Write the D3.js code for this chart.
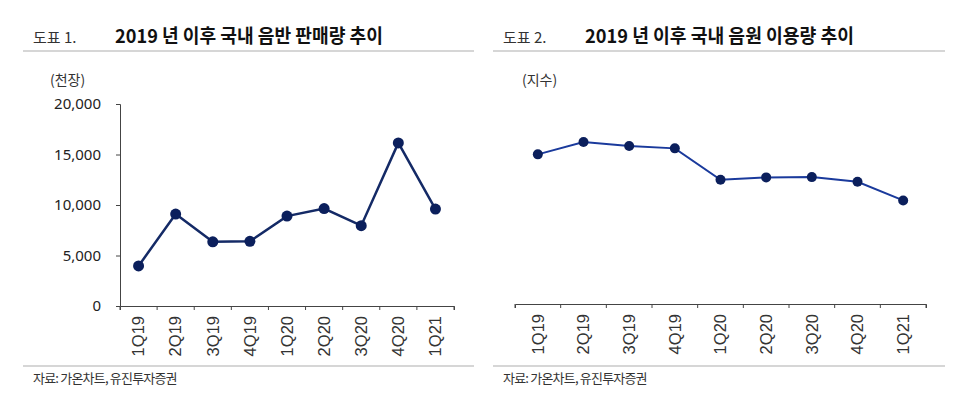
<!DOCTYPE html>
<html>
<head>
<meta charset="utf-8">
<script src="https://cdn.jsdelivr.net/npm/d3@7"></script>
<style>
  body { margin: 0; background: #fff; }
  svg { display: block; font-family: "Noto Sans CJK KR", "Noto Sans", sans-serif; }
</style>
</head>
<body>
<svg id="chart" width="966" height="396"></svg>
<script>
const quarters = ["1Q19", "2Q19", "3Q19", "4Q19", "1Q20", "2Q20", "3Q20", "4Q20", "1Q21"];
// 국내 음반 판매량 (천장)
const albumSales = [3970, 9100, 6350, 6400, 8900, 9650, 7950, 16150, 9600];
// 국내 음원 이용량 (지수, 1Q19 = 100)
const streamIndex = [100, 108.2, 105.6, 104.0, 83.0, 84.6, 84.8, 81.7, 69.2];
const salesTicks = [0, 5000, 10000, 15000, 20000];

const svg = d3.select("#chart");
const navy = "#0b1f5c";

function panel(opts) {
  const g = svg.append("g");
  // header
  g.append("text")
    .attr("x", opts.x0 + 10).attr("y", 43)
    .attr("font-size", 15).attr("fill", "#333")
    .text(opts.label);
  g.append("text")
    .attr("x", opts.titleX).attr("y", 43)
    .attr("font-size", 19).attr("font-weight", "bold").attr("fill", "#111")
    .attr("textLength", opts.titleW).attr("lengthAdjust", "spacingAndGlyphs")
    .text(opts.title);
  g.append("line")
    .attr("x1", opts.x0).attr("x2", opts.x1).attr("y1", 51).attr("y2", 51)
    .attr("stroke", "#c8c8c8").attr("stroke-width", 1.5);
  g.append("line")
    .attr("x1", opts.x0).attr("x2", opts.x1).attr("y1", 366).attr("y2", 366)
    .attr("stroke", "#c8c8c8").attr("stroke-width", 1.5);
  g.append("text")
    .attr("x", opts.x0 + 10).attr("y", 383)
    .attr("font-size", 13).attr("fill", "#333").attr("letter-spacing", -0.8)
    .text("자료: 가온차트, 유진투자증권");
  g.append("text")
    .attr("x", opts.unitX).attr("y", 85)
    .attr("font-size", 14).attr("fill", "#333")
    .text(opts.unit);

  const x = d3.scaleBand().domain(quarters).range([opts.left, opts.right]);
  const y = d3.scaleLinear().domain(opts.domain).range([opts.bottom, opts.top]);

  const xAxis = g.append("g")
    .attr("transform", `translate(0, ${opts.bottom})`)
    .call(d3.axisBottom(x).tickSizeOuter(4).tickSizeInner(4).tickPadding(6));
  xAxis.select(".domain").attr("stroke", "#444");
  xAxis.selectAll(".tick line").attr("stroke", "#444")
    .attr("transform", `translate(${-x.bandwidth() / 2}, 0)`);
  xAxis.selectAll(".tick text")
    .attr("transform", "rotate(-90)")
    .attr("x", -10).attr("y", 0).attr("dy", "0.35em")
    .style("text-anchor", "end")
    .attr("font-size", 16.5).attr("fill", "#333")
    .attr("font-family", "'Liberation Sans', sans-serif");
  // closing tick at the right end
  xAxis.append("line")
    .attr("x1", opts.right).attr("x2", opts.right).attr("y1", 0).attr("y2", 4)
    .attr("stroke", "#444");

  if (opts.showY) {
    const yAxis = g.append("g")
      .attr("transform", `translate(${opts.left}, 0)`)
      .call(d3.axisLeft(y).tickValues(salesTicks).tickSizeOuter(0).tickSize(4).tickPadding(15)
        .tickFormat(d3.format(",")));
    yAxis.select(".domain").attr("stroke", "#444");
    yAxis.selectAll(".tick line").attr("stroke", "#444");
    yAxis.selectAll(".tick text").attr("font-size", 15).attr("fill", "#222")
      .attr("font-family", "'Noto Sans', sans-serif");
  }

  const cx = (d, i) => x(quarters[i]) + x.bandwidth() / 2;
  g.append("path")
    .datum(opts.values)
    .attr("fill", "none")
    .attr("stroke", opts.lineColor)
    .attr("stroke-width", opts.lineWidth)
    .attr("d", d3.line().x(cx).y((d) => y(d)));
  g.selectAll("circle.pt")
    .data(opts.values)
    .join("circle")
    .attr("class", "pt")
    .attr("cx", cx)
    .attr("cy", (d) => y(d))
    .attr("r", opts.r)
    .attr("fill", navy);
}

panel({
  x0: 23, x1: 474, label: "도표 1.", title: "2019 년 이후 국내 음반 판매량 추이",
  titleX: 115, titleW: 268, unit: "(천장)", unitX: 50,
  left: 120, right: 454, top: 104, bottom: 306, domain: [0, 20000],
  values: albumSales, showY: true, lineColor: "#142a66", lineWidth: 2.5, r: 5.5,
});

panel({
  x0: 493, x1: 945, label: "도표 2.", title: "2019 년 이후 국내 음원 이용량 추이",
  titleX: 585, titleW: 269, unit: "(지수)", unitX: 522,
  left: 515, right: 926, top: 94.5, bottom: 304, domain: [0, 140],
  values: streamIndex, showY: false, lineColor: "#1a3a9c", lineWidth: 2, r: 5,
});
</script>
</body>
</html>
